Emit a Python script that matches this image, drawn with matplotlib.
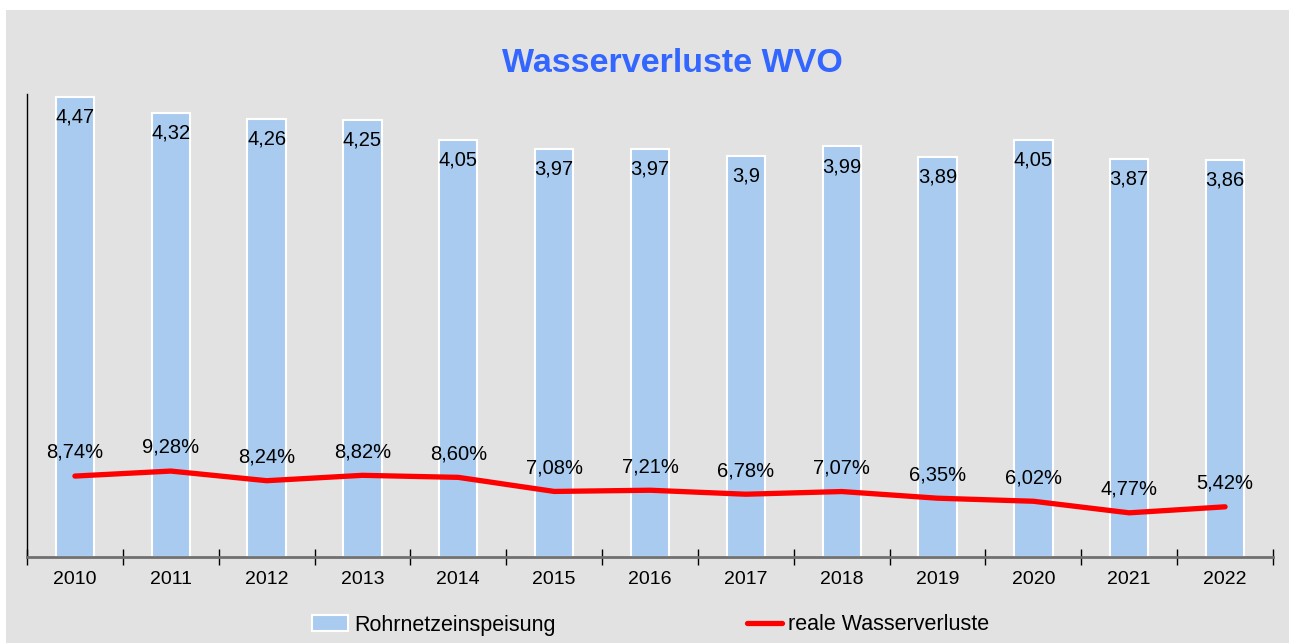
import matplotlib
matplotlib.use("Agg")
import matplotlib.pyplot as plt
import numpy as np
from matplotlib.patches import Rectangle

plt.rcParams['font.family'] = ['Liberation Sans', 'DejaVu Sans']

jahre = ["2010", "2011", "2012", "2013", "2014", "2015", "2016",
         "2017", "2018", "2019", "2020", "2021", "2022"]
einspeisung = [4.47, 4.32, 4.26, 4.25, 4.05, 3.97, 3.97, 3.90, 3.99, 3.89, 4.05, 3.87, 3.86]
verluste = [8.74, 9.28, 8.24, 8.82, 8.60, 7.08, 7.21, 6.78, 7.07, 6.35, 6.02, 4.77, 5.42]


def deutsch(wert, stellen):
    return f"{wert:.{stellen}f}".replace(".", ",")


def main():
    fig = plt.figure(figsize=(12.89, 6.43), dpi=100)
    fig.patch.set_facecolor("white")
    # grauer Hintergrund wie im Original
    fig.patches.append(Rectangle((6 / 1289, 0), 1 - 6 / 1289, 633 / 643,
                                 transform=fig.transFigure, facecolor="#e2e2e2",
                                 edgecolor="none", zorder=-10))

    ax = fig.add_axes([27 / 1289, 86 / 643, 1246 / 1289, 463 / 643])
    ax.set_facecolor("none")
    x = np.arange(len(jahre))

    balken = ax.bar(x, einspeisung, width=0.4, color="#a9cbef", edgecolor="white",
                    linewidth=1.5, label="Rohrnetzeinspeisung", zorder=2)
    for xi, w in zip(x, einspeisung):
        ax.annotate(deutsch(w, 2).rstrip("0").rstrip(","), (xi, w), xytext=(0, -14.5),
                    textcoords="offset points", ha="center", va="center", fontsize=14.5)
    ax.set_ylim(0, 4.5)
    ax.set_xlim(-0.5, len(jahre) - 0.5)

    ax.set_xticks(np.arange(-0.5, len(jahre)))
    ax.set_xticklabels([])
    ax.set_xticks(x, minor=True)
    ax.set_xticklabels(jahre, minor=True, fontsize=14)
    ax.tick_params(axis="x", which="major", direction="inout", length=12, width=1, color="black")
    ax.tick_params(axis="x", which="minor", length=0, pad=10)
    ax.set_yticks([])
    for s in ["top", "right"]:
        ax.spines[s].set_visible(False)
    ax.spines["bottom"].set_color("#707070")
    ax.spines["bottom"].set_linewidth(2)
    ax.spines["left"].set_color("black")
    ax.spines["left"].set_linewidth(1)

    ax2 = ax.twinx()
    linie, = ax2.plot(x, verluste, color="#ff0000", linewidth=3.8,
                      solid_capstyle="round", label="reale Wasserverluste", zorder=3)
    for xi, v in zip(x, verluste):
        ax2.annotate(deutsch(v, 2) + "%", (xi, v), xytext=(0, 17),
                     textcoords="offset points", ha="center", va="center", fontsize=14.5)
    ax2.set_ylim(0, 50)
    ax2.set_yticks([])
    ax2.axis("off")

    fig.text(0.522, 1 - 63 / 643, "Wasserverluste WVO", ha="center", va="center",
             fontsize=24.5, fontweight="bold", color="#3366ff")

    fig.legend([balken, linie], ["Rohrnetzeinspeisung", "reale Wasserverluste"],
               loc="center", bbox_to_anchor=(0.505, 18 / 643), ncol=2, frameon=False,
               fontsize=15.5, handlelength=1.65, handletextpad=0.28, columnspacing=8.9)

    fig.savefig("out.png", dpi=100)


if __name__ == "__main__":
    main()
